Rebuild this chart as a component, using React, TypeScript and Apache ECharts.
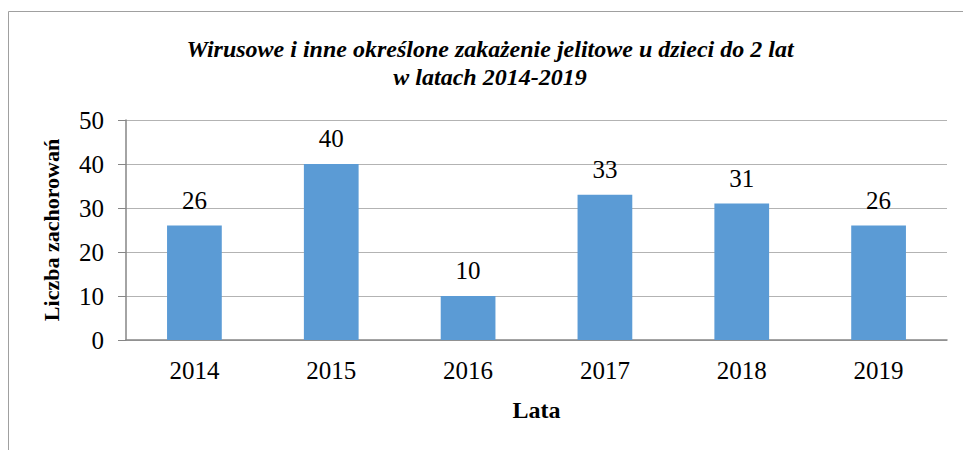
import React, { useEffect, useRef } from "react";
import * as echarts from "echarts";

const categories = ["2014", "2015", "2016", "2017", "2018", "2019"];
const values = [26, 40, 10, 33, 31, 26];
const titleLines = ["Wirusowe i inne określone zakażenie jelitowe u dzieci do 2 lat", "w latach 2014-2019"];
const yAxisName = "Liczba zachorowań";
const xAxisName = "Lata";

const FONT = "Liberation Serif";

export default function App() {
  const ref = useRef<HTMLDivElement>(null);
  useEffect(() => {
    if (!ref.current) return;
    const chart = echarts.init(ref.current, undefined, { renderer: "svg" });
    chart.setOption({
      animation: false,
      backgroundColor: "#ffffff",
      textStyle: { fontFamily: FONT },
      title: {
        text: titleLines.join("\n"),
        left: 485,
        top: 30,
        textAlign: "center",
        textStyle: {
          fontFamily: FONT,
          fontSize: 24,
          fontStyle: "italic",
          fontWeight: "bold",
          lineHeight: 28,
          color: "#000",
        },
      },
      graphic: [
        {
          type: "rect",
          shape: { x: 8.5, y: 11.5, width: 1000, height: 500 },
          style: { fill: "none", stroke: "#a0a0a0", lineWidth: 1 },
          silent: true,
        },
      ],
      grid: { left: 126, right: 16, top: 120, bottom: 110, containLabel: false },
      xAxis: {
        type: "category",
        data: categories,
        name: xAxisName,
        nameLocation: "middle",
        nameGap: 58,
        nameTextStyle: { fontFamily: FONT, fontSize: 24, fontWeight: "bold", color: "#000" },
        axisLine: { show: true, lineStyle: { color: "#868686", width: 1.5 } },
        axisTick: { show: false },
        axisLabel: { fontFamily: FONT, fontSize: 25, color: "#000", margin: 18 },
      },
      yAxis: {
        type: "value",
        min: 0,
        max: 50,
        interval: 10,
        name: yAxisName,
        nameLocation: "middle",
        nameGap: 64,
        nameRotate: 90,
        nameTextStyle: { fontFamily: FONT, fontSize: 22, fontWeight: "bold", color: "#000" },
        axisLine: { show: true, lineStyle: { color: "#868686", width: 1.5 } },
        axisTick: { show: true, inside: false, length: 8, lineStyle: { color: "#868686" } },
        splitLine: { show: true, lineStyle: { color: "#b3b3b3", width: 1.2 } },
        axisLabel: { fontFamily: FONT, fontSize: 25, color: "#000", margin: 22 },
      },
      series: [
        {
          type: "bar",
          data: values,
          barWidth: "40%",
          itemStyle: { color: "#5b9bd5" },
          label: {
            show: true,
            position: "top",
            distance: 13,
            fontFamily: FONT,
            fontSize: 25,
            color: "#000",
          },
        },
      ],
    });
    return () => chart.dispose();
  }, []);
  return (
    <div
      ref={ref}
      style={{ position: "absolute", left: 0, top: 0, width: 963, height: 450 }}
    />
  );
}
